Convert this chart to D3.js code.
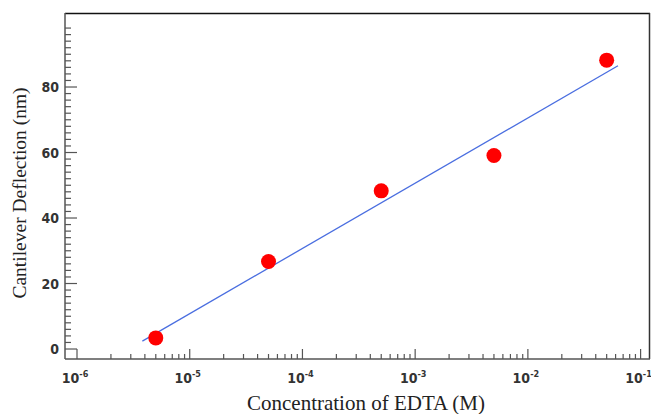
<!DOCTYPE html>
<html><head><meta charset="utf-8">
<script src="https://cdn.jsdelivr.net/npm/d3@7"></script>
<style>body{margin:0;background:#fff}</style>
</head><body>
<svg id="c" width="651" height="414"></svg>
<script>
const concentrations = [5e-6, 5e-5, 5e-4, 5e-3, 5e-2];
const deflections = [3.4, 26.7, 48.3, 59.1, 88.2];
const fitX = [3.8e-6, 0.063];
const fitY = [2.4, 86.5];
const xMajorTicks = [1e-6, 1e-5, 1e-4, 1e-3, 1e-2, 1e-1];
const xTickExponents = ["-6", "-5", "-4", "-3", "-2", "-1"];
const yMajorTicks = [0, 20, 40, 60, 80];

const svg = d3.select("#c");
const L = 65, R = 650, T = 13, B = 359;
const x = d3.scaleLog().domain([Math.pow(10, -6.1065), Math.pow(10, -0.9166)]).range([L, R]);
const y = d3.scaleLinear().domain([-3.05, 102.6]).range([B, T]);

const axisCol = "#555";
const narrow = "'Liberation Sans Narrow','Arial Narrow','DejaVu Sans Condensed',sans-serif";
// frame
svg.append("line").attr("x1", L).attr("x2", R).attr("y1", T+0.5).attr("y2", T+0.5).attr("stroke", "#111").attr("stroke-width", 1.5);
svg.append("line").attr("x1", R-0.5).attr("x2", R-0.5).attr("y1", T).attr("y2", B).attr("stroke", "#333").attr("stroke-width", 1.5);

// x minor ticks
const xMinor = [];
for (let e = -6; e <= -1; e++) for (let m = 2; m <= 9; m++) { const v = m * Math.pow(10, e); if (v < x.domain()[1]) xMinor.push(v); }
const gx = svg.append("g");
gx.selectAll(".mn").data(xMinor).enter().append("line")
  .attr("x1", d => x(d)).attr("x2", d => x(d)).attr("y1", B).attr("y2", B-5)
  .attr("stroke", axisCol).attr("stroke-width", 1.2);
gx.selectAll(".mj").data(xMajorTicks).enter().append("line")
  .attr("x1", d => x(d)).attr("x2", d => x(d)).attr("y1", B).attr("y2", B-10)
  .attr("stroke", axisCol).attr("stroke-width", 1.2);
const xl = gx.selectAll(".lb").data(xMajorTicks).enter().append("text")
  .attr("x", d => x(d) - 2).attr("y", 383).attr("text-anchor", "middle")
  .attr("font-family", narrow).attr("font-weight", "bold")
  .attr("font-size", 14).attr("fill", "#333");
xl.append("tspan").text("10");
xl.append("tspan").attr("dy", -6).attr("font-size", 9).text((d, i) => xTickExponents[i]);

// y ticks
const yMinor = d3.range(0, 100, 2).filter(v => v % 20 !== 0);
const gy = svg.append("g");
gy.selectAll(".mn").data(yMinor).enter().append("line")
  .attr("x1", L).attr("x2", L+6).attr("y1", d => y(d)).attr("y2", d => y(d))
  .attr("stroke", axisCol).attr("stroke-width", 1.2);
gy.selectAll(".mj").data(yMajorTicks).enter().append("line")
  .attr("x1", L).attr("x2", L+12).attr("y1", d => y(d)).attr("y2", d => y(d))
  .attr("stroke", axisCol).attr("stroke-width", 1.2);
gy.selectAll(".lb").data(yMajorTicks).enter().append("text")
  .attr("x", 59).attr("y", d => y(d) + 5).attr("text-anchor", "end")
  .attr("font-family", narrow)
  .attr("font-weight", "bold").attr("font-size", 14).attr("fill", "#333").text(d => d);

// axes lines
svg.append("line").attr("x1", L).attr("x2", R).attr("y1", B).attr("y2", B).attr("stroke", axisCol).attr("stroke-width", 1.5);
svg.append("line").attr("x1", L).attr("x2", L).attr("y1", T).attr("y2", B).attr("stroke", axisCol).attr("stroke-width", 1.5);

// fit line
svg.append("path").datum(fitX.map((v, i) => [v, fitY[i]]))
  .attr("d", d3.line().x(d => x(d[0])).y(d => y(d[1])))
  .attr("stroke", "#4a6ee0").attr("stroke-width", 1.3).attr("fill", "none");

// points
svg.selectAll(".pt").data(concentrations).enter().append("circle")
  .attr("cx", d => x(d)).attr("cy", (d, i) => y(deflections[i])).attr("r", 7.5)
  .attr("fill", "#ff0000");

// titles
svg.append("text").attr("x", 366).attr("y", 410).attr("text-anchor", "middle")
  .attr("font-family", "'Liberation Serif','Times New Roman',serif").attr("font-size", 21).attr("fill", "#222")
  .text("Concentration of EDTA (M)");
svg.append("text").attr("transform", "translate(26,193) rotate(-90)").attr("text-anchor", "middle")
  .attr("font-family", "'Liberation Serif','Times New Roman',serif").attr("font-size", 19.5).attr("fill", "#222")
  .text("Cantilever Deflection (nm)");
</script>
</body></html>
